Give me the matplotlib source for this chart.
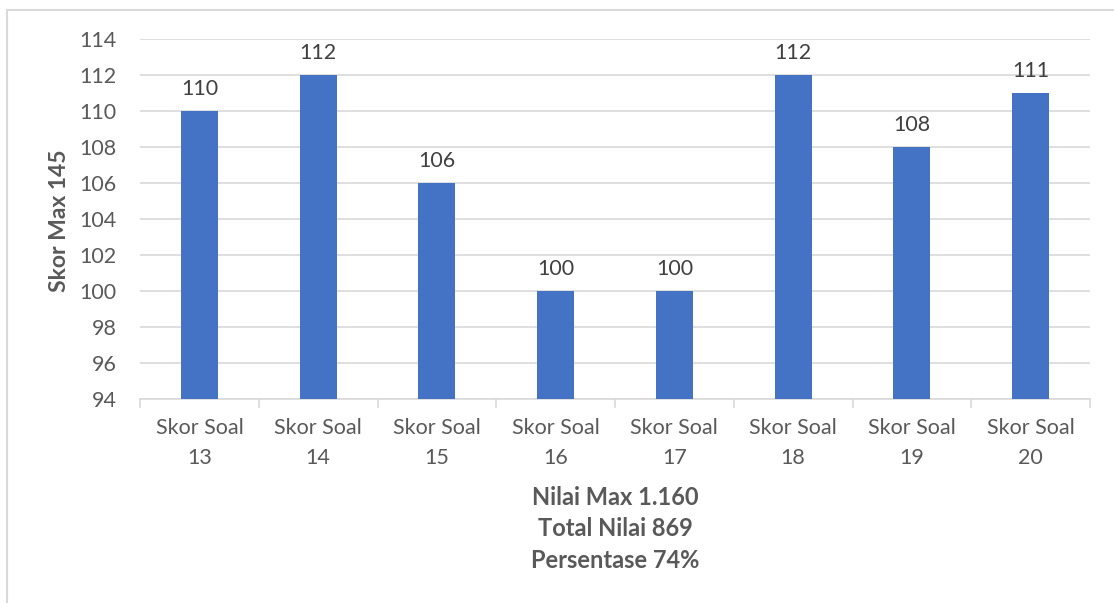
import matplotlib.pyplot as plt
from matplotlib.patches import Rectangle

categories = ["Skor Soal\n13", "Skor Soal\n14", "Skor Soal\n15", "Skor Soal\n16",
              "Skor Soal\n17", "Skor Soal\n18", "Skor Soal\n19", "Skor Soal\n20"]
scores = [110, 112, 106, 100, 100, 112, 108, 111]
y_ticks = [94, 96, 98, 100, 102, 104, 106, 108, 110, 112, 114]

plt.rcParams['font.family'] = ['Lato', 'DejaVu Sans']
text_color = "#595959"
bar_color = "#4472C4"
grid_color = "#D9D9D9"
fs = 15.5

W, H = 1114, 603
fig = plt.figure(figsize=(W / 100, H / 100), dpi=100)
ax = fig.add_axes([140 / W, 1 - 399 / H, 950 / W, 360 / H])

x = list(range(len(categories)))
ax.bar(x, scores, width=0.31, color=bar_color, zorder=3)
for xi, s in zip(x, scores):
    ax.text(xi, s + 0.65, str(s), ha='center', va='bottom', fontsize=fs, color="#404040")

ax.set_ylim(94, 114)
ax.set_xlim(-0.5, len(categories) - 0.5)
ax.set_yticks(y_ticks)
ax.set_xticks(x)
ax.set_xticklabels(categories, fontsize=fs, color=text_color, linespacing=1.6)
ax.tick_params(axis='y', length=0, labelsize=fs, labelcolor=text_color, pad=17)
ax.tick_params(axis='x', length=0, pad=14)
ax.grid(axis='y', color=grid_color, linewidth=1.2, zorder=0)
for side in ['top', 'right', 'left']:
    ax.spines[side].set_visible(False)
ax.spines['bottom'].set_color(grid_color)
ax.spines['bottom'].set_linewidth(1.2)
# category separator ticks on the x axis
for b in [i - 0.5 for i in range(len(categories) + 1)]:
    ax.plot([b, b], [94, 94 - 0.45], color=grid_color, linewidth=1.2, clip_on=False)

fig.text(60 / W, 1 - 221 / H, "Skor Max 145", rotation=90, ha='center', va='center',
         fontsize=16.5, fontweight='bold', color=text_color)
fig.text(615 / W, 1 - 529 / H, "Nilai Max 1.160\nTotal Nilai 869\nPersentase 74%",
         ha='center', va='center', fontsize=17, fontweight='bold', color=text_color,
         linespacing=1.45)

# chart border (clipped by the crop)
fig.patches.append(Rectangle((7 / W, -0.1), 1.2, 1 - 10 / H + 0.1, transform=fig.transFigure,
                             fill=False, edgecolor=grid_color, linewidth=1.5))

fig.savefig("out.png", dpi=100)
